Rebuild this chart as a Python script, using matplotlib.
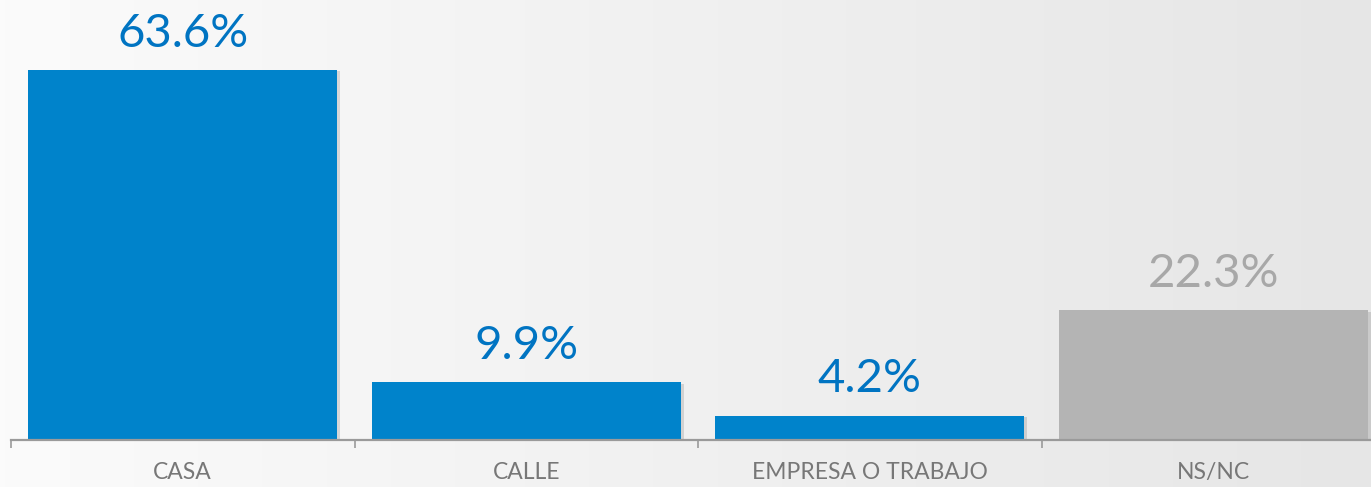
import numpy as np
import matplotlib
matplotlib.use("Agg")
import matplotlib.pyplot as plt
import matplotlib.patheffects as pe

# ---- data -------------------------------------------------------------------
categories = ["CASA", "CALLE", "EMPRESA O TRABAJO", "NS/NC"]
values = [63.6, 9.9, 4.2, 22.3]
labels = ["63.6%", "9.9%", "4.2%", "22.3%"]

BLUE = "#0083CB"
BLUE_TXT = "#0074C2"
GREY = "#B4B4B4"
GREY_TXT = "#A8A8A8"
AXIS = "#9A9A9A"
CAT_TXT = "#777777"

bar_colors = [BLUE, BLUE, BLUE, GREY]
text_colors = [BLUE_TXT, BLUE_TXT, BLUE_TXT, GREY_TXT]

plt.rcParams["font.family"] = ["Lato", "DejaVu Sans"]

W, H = 1371, 487
fig = plt.figure(figsize=(W / 100, H / 100), dpi=100)

# background gradient, light on the left, greyer on the right
bg = fig.add_axes([0, 0, 1, 1], zorder=0)
grad = np.linspace(0, 1, 256)[None, :]
bg.imshow(grad, aspect="auto", cmap=matplotlib.colors.LinearSegmentedColormap.from_list(
    "bg", ["#FBFBFB", "#E6E6E6"]), extent=[0, 1, 0, 1])
bg.axis("off")

# axes: baseline at y=440 px, category slots 343.5 px wide starting at x=11
left = 11 / W
width = 4 * 343.5 / W
bottom = (H - 440) / H
ax = fig.add_axes([left, bottom, width, 440 / H], zorder=1)
ax.patch.set_alpha(0)

x = np.arange(len(categories))
bars = ax.bar(x, values, width=0.9, color=bar_colors, zorder=2)
for b in bars:
    b.set_path_effects([pe.SimplePatchShadow(offset=(2, -1), shadow_rgbFace="#000000", alpha=0.12),
                        pe.Normal()])

ax.set_xlim(-0.5, 3.5)
ax.set_ylim(0, 75.6)

for xi, v, lab, c in zip(x, values, labels, text_colors):
    ax.annotate(lab, (xi, v), xytext=(0, 11), textcoords="offset points",
                ha="center", va="bottom", fontsize=34, color=c)

ax.set_xticks(np.arange(-0.5, 4.0, 1.0))
ax.set_xticklabels([])
ax.set_xticks(x, minor=True)
ax.set_xticklabels(categories, minor=True, fontsize=16.5, color=CAT_TXT)
ax.tick_params(axis="x", which="major", direction="out", length=6, width=1.2,
               color=AXIS)
ax.tick_params(axis="x", which="minor", length=0, pad=16)
ax.set_yticks([])
for s in ["top", "right", "left"]:
    ax.spines[s].set_visible(False)
ax.spines["bottom"].set_color(AXIS)
ax.spines["bottom"].set_linewidth(1.6)

fig.savefig("out.png", dpi=100)
